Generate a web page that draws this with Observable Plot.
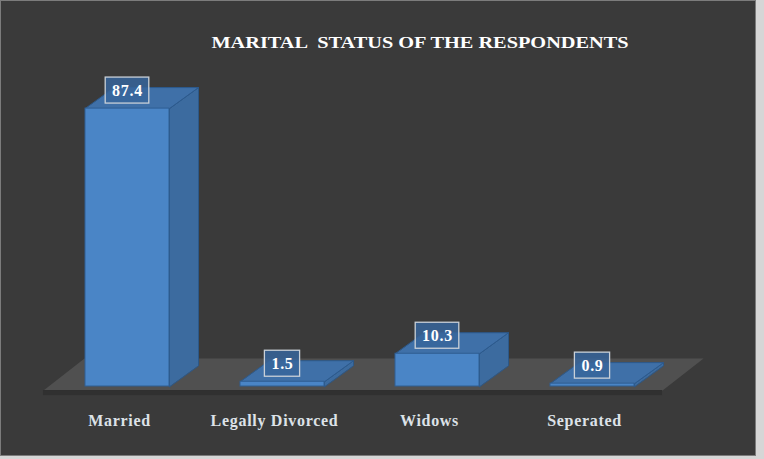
<!DOCTYPE html>
<html><head><meta charset="utf-8">
<script src="https://cdn.jsdelivr.net/npm/d3@7"></script>
<script src="https://cdn.jsdelivr.net/npm/@observablehq/plot@0.6"></script>
<style>
html,body{margin:0;padding:0;background:#d6d6d6;width:764px;height:459px;overflow:hidden;}
#chart{position:absolute;left:0;top:0;width:754px;height:454px;border:1px solid #7c7c7c;background:#3a3a3a;}
#title{position:absolute;left:419px;top:32px;white-space:pre;font-family:"Liberation Serif","Times New Roman",serif;font-weight:bold;font-size:16px;line-height:20px;color:#fff;transform:translateX(-50%) scaleX(1.27);transform-origin:center;}
#plot{position:absolute;left:0;top:59px;}
#plot svg text{letter-spacing:0.7px;}
</style>
</head><body>
<div id="chart">
  <div id="title">MARITAL  STATUS OF THE RESPONDENTS</div>
  <div id="plot"></div>
</div>
<script>
const categories = ["Married", "Legally Divorced", "Widows", "Seperated"];
const values = [87.4, 1.5, 10.3, 0.9];
const valueLabels = ["87.4", "1.5", "10.3", "0.9"];

// scale constants (pixels per unit) consistent with the plot margins below
const PX_X = 155, PX_Y = 3.18;
const hw = 42 / PX_X;          // half bar width (x units)
const ddx = 29 / PX_X;         // depth offset x
const ddy = 21 / PX_Y;         // depth offset y
const lblOff = 18 / PX_Y;      // label offset above bar
const boxHH = 13 / PX_Y;       // label box half height

const data = categories.map((c, i) => ({i, cat: c, v: values[i], label: valueLabels[i]}));

const topPts = data.flatMap(d => [
  [d.i - hw, d.v], [d.i + hw, d.v], [d.i + hw + ddx, d.v + ddy], [d.i - hw + ddx, d.v + ddy]
].map(([x, y]) => ({cat: d.cat, x, y})));
const sidePts = data.flatMap(d => [
  [d.i + hw, 0], [d.i + hw, d.v], [d.i + hw + ddx, d.v + ddy], [d.i + hw + ddx, ddy]
].map(([x, y]) => ({cat: d.cat, x, y})));

// floor plane
const floorL = -0.542, floorR = 3.452, floorFront = -1.26, floorBack = 8.8, floorShift = 41 / PX_X;
const floorPts = [
  {x: floorL, y: floorFront}, {x: floorR, y: floorFront},
  {x: floorR + floorShift, y: floorBack}, {x: floorL + floorShift, y: floorBack}
];
const floorStrip = [{x1: floorL, x2: floorR, y1: floorFront, y2: floorFront - 1.6}];

const chart = Plot.plot({
  width: 754, height: 394,
  marginLeft: 48.5, marginRight: 85.5, marginTop: 8, marginBottom: 68,
  x: {type: "linear", domain: [-0.5, 3.5]},
  y: {domain: [0, 100], axis: null},
  style: {background: "transparent", fontFamily: "'Liberation Serif','Times New Roman',serif", fontWeight: "bold", color: "#dde2e8", overflow: "visible"},
  marks: [
    Plot.line(floorPts, {x: "x", y: "y", fill: "#505050", stroke: "none", curve: "linear-closed"}),
    Plot.rect(floorStrip, {x1: "x1", x2: "x2", y1: "y1", y2: "y2", fill: "#303030"}),
    Plot.line(sidePts, {x: "x", y: "y", z: "cat", fill: "#3c6b9f", stroke: "#2c5888", strokeWidth: 1, curve: "linear-closed"}),
    Plot.line(topPts, {x: "x", y: "y", z: "cat", fill: "#3f70a8", stroke: "#2c5a8e", strokeWidth: 1, curve: "linear-closed"}),
    Plot.rect(data, {x1: d => d.i - hw, x2: d => d.i + hw, y1: d => 0, y2: "v", fill: "#4a85c6", stroke: "#2f5e93", strokeWidth: 1}),
    Plot.rect(data, {
      x1: d => d.i - (5 + 4.2 * d.label.length) / PX_X,
      x2: d => d.i + (5 + 4.2 * d.label.length) / PX_X,
      y1: d => d.v + lblOff - boxHH, y2: d => d.v + lblOff + boxHH,
      fill: "#37659b", fillOpacity: 0.85, stroke: "#c9d0d8", strokeWidth: 1.3
    }),
    Plot.text(data, {x: "i", y: d => d.v + lblOff, text: "label", fill: "#ffffff", fontSize: 16, fontWeight: "bold"}),
    Plot.axisX({ticks: [0, 1, 2, 3], tickFormat: i => categories[i], tickSize: 0, tickPadding: 28, fontSize: 16, fill: "#dde2e8", dx: -8, label: null})
  ]
});
document.getElementById("plot").append(chart);
</script>
</body></html>
